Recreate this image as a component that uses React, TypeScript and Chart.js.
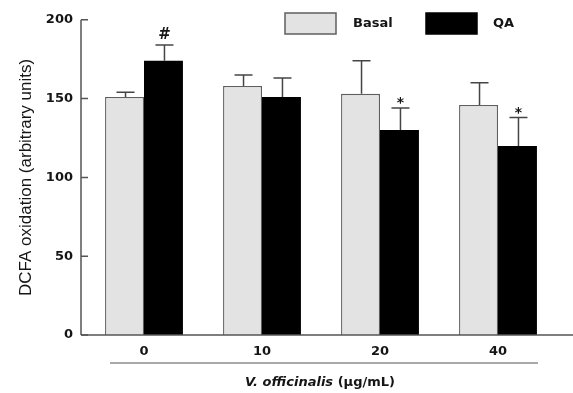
import React, { useEffect, useRef } from "react";
import { Chart, registerables } from "chart.js";

Chart.register(...registerables);

// Dose of V. officinalis extract (µg/mL)
const doses = ["0", "10", "20", "40"];
// DCFA oxidation, arbitrary units (mean and SD)
const basalMean = [151, 158, 153, 146];
const basalSd = [3, 7, 21, 14];
const qaMean = [174, 151, 130, 120];
const qaSd = [10, 12, 14, 18];
// Significance markers above the QA bars
const qaMarks = ["#", "", "*", "*"];
const yTickValues = [0, 50, 100, 150, 200];

const FONT = "'DejaVu Sans', 'Liberation Sans', Arial, sans-serif";
const TITLE_FONT = "'Liberation Sans', Arial, sans-serif";
const INK = "#151515";
const AXIS = "#555555";
const BASAL_FILL = "#e3e3e3";
const BASAL_EDGE = "#5f5f5f";
const QA_FILL = "#000000";

const errorSets = [basalSd, qaSd];
const markSets = [[], qaMarks];

const decorPlugin = {
  id: "figureDecor",
  afterDatasetsDraw(chart: any) {
    const { ctx, chartArea, scales, width } = chart;
    const y = scales.y;
    const x = scales.x;
    const axisX = chartArea.left - 4;
    const y0 = y.getPixelForValue(0);
    const yTop = y.getPixelForValue(200);

    ctx.save();
    // axes
    ctx.strokeStyle = AXIS;
    ctx.lineWidth = 1.5;
    ctx.beginPath();
    ctx.moveTo(axisX, yTop);
    ctx.lineTo(axisX, y0);
    ctx.moveTo(axisX, y0);
    ctx.lineTo(width, y0);
    ctx.stroke();
    // inward tick marks
    ctx.beginPath();
    yTickValues.forEach((v) => {
      const py = y.getPixelForValue(v);
      ctx.moveTo(axisX, py);
      ctx.lineTo(axisX + 7, py);
    });
    ctx.stroke();

    // error bars and markers
    chart.data.datasets.forEach((ds: any, di: number) => {
      const meta = chart.getDatasetMeta(di);
      const sds = errorSets[di];
      const marks = markSets[di];
      meta.data.forEach((bar: any, i: number) => {
        const mean = ds.data[i];
        const top = y.getPixelForValue(mean + sds[i]);
        const base = y.getPixelForValue(mean);
        const cx = bar.x + 1;
        ctx.strokeStyle = "#454545";
        ctx.lineWidth = 1.5;
        ctx.beginPath();
        ctx.moveTo(cx, base);
        ctx.lineTo(cx, top);
        ctx.moveTo(cx - 9, top);
        ctx.lineTo(cx + 9, top);
        ctx.stroke();
        const m = marks[i];
        if (m) {
          ctx.fillStyle = INK;
          ctx.font = `bold ${m === "#" ? 15 : 14}px ${FONT}`;
          ctx.textAlign = "center";
          ctx.textBaseline = "alphabetic";
          ctx.fillText(m, cx, top - (m === "#" ? 6 : 1));
        }
      });
    });

    // rule under the dose labels
    const ruleY = 363;
    ctx.strokeStyle = AXIS;
    ctx.lineWidth = 1.2;
    ctx.beginPath();
    ctx.moveTo(x.getPixelForValue(0) - 34, ruleY);
    ctx.lineTo(x.getPixelForValue(3) + 40, ruleY);
    ctx.stroke();

    // x-axis title: italic species name + unit
    const italicPart = "V. officinalis";
    const plainPart = " (µg/mL)";
    ctx.fillStyle = INK;
    ctx.textBaseline = "middle";
    ctx.textAlign = "left";
    ctx.font = `italic bold 13px ${FONT}`;
    const w1 = ctx.measureText(italicPart).width;
    ctx.font = `bold 13px ${FONT}`;
    const w2 = ctx.measureText(plainPart).width;
    const startX = 320 - (w1 + w2) / 2;
    ctx.font = `italic bold 13px ${FONT}`;
    ctx.fillText(italicPart, startX, 383);
    ctx.font = `bold 13px ${FONT}`;
    ctx.fillText(plainPart, startX + w1, 383);

    // legend
    const boxes = [
      { x: 285, textX: 353 },
      { x: 426, textX: 493 },
    ];
    chart.data.datasets.forEach((ds: any, di: number) => {
      const b = boxes[di];
      ctx.fillStyle = ds.backgroundColor;
      ctx.fillRect(b.x, 13, 51, 21);
      ctx.strokeStyle = di === 0 ? BASAL_EDGE : QA_FILL;
      ctx.lineWidth = 1.5;
      ctx.strokeRect(b.x, 13, 51, 21);
      ctx.fillStyle = INK;
      ctx.font = `bold 13px ${FONT}`;
      ctx.textAlign = "left";
      ctx.textBaseline = "middle";
      ctx.fillText(ds.label, b.textX, 24);
    });
    ctx.restore();
  },
};

export default function App() {
  const canvasRef = useRef<HTMLCanvasElement | null>(null);

  useEffect(() => {
    document.body.style.margin = "0";
    const canvas = canvasRef.current;
    if (!canvas) return;
    const chart = new Chart(canvas, {
      type: "bar",
      data: {
        labels: doses,
        datasets: [
          {
            label: "Basal",
            data: basalMean,
            backgroundColor: BASAL_FILL,
            borderColor: BASAL_EDGE,
            borderWidth: 1.3,
            borderSkipped: "bottom",
            barPercentage: 1,
            categoryPercentage: 0.66,
          },
          {
            label: "QA",
            data: qaMean,
            backgroundColor: QA_FILL,
            borderWidth: 0,
            barPercentage: 1,
            categoryPercentage: 0.66,
          },
        ],
      },
      options: {
        responsive: false,
        animation: false,
        layout: { padding: { left: 0, right: 16, top: 14, bottom: 0 } },
        plugins: {
          legend: { display: false },
          tooltip: { enabled: false },
        },
        scales: {
          x: {
            grid: { display: false, drawTicks: false },
            border: { display: false },
            ticks: {
              color: INK,
              font: { family: FONT, size: 13, weight: "bold" },
              padding: 9,
            },
            afterFit(scale: any) {
              scale.height = 58;
            },
          },
          y: {
            min: 0,
            max: 200,
            grid: { display: false, drawTicks: false },
            border: { display: false },
            ticks: {
              stepSize: 50,
              color: INK,
              font: { family: FONT, size: 13, weight: "bold" },
              padding: 12,
            },
            title: {
              display: true,
              text: "DCFA oxidation (arbitrary units)",
              color: INK,
              font: { family: TITLE_FONT, size: 17, weight: "normal" },
              padding: { top: 16, bottom: 0 },
            },
            afterFit(scale: any) {
              scale.width = 85;
            },
          },
        },
      },
      plugins: [decorPlugin],
    });
    return () => chart.destroy();
  }, []);

  return (
    <div style={{ width: 573, height: 393, background: "#ffffff" }}>
      <canvas ref={canvasRef} width={573} height={393} style={{ display: "block" }} />
    </div>
  );
}
